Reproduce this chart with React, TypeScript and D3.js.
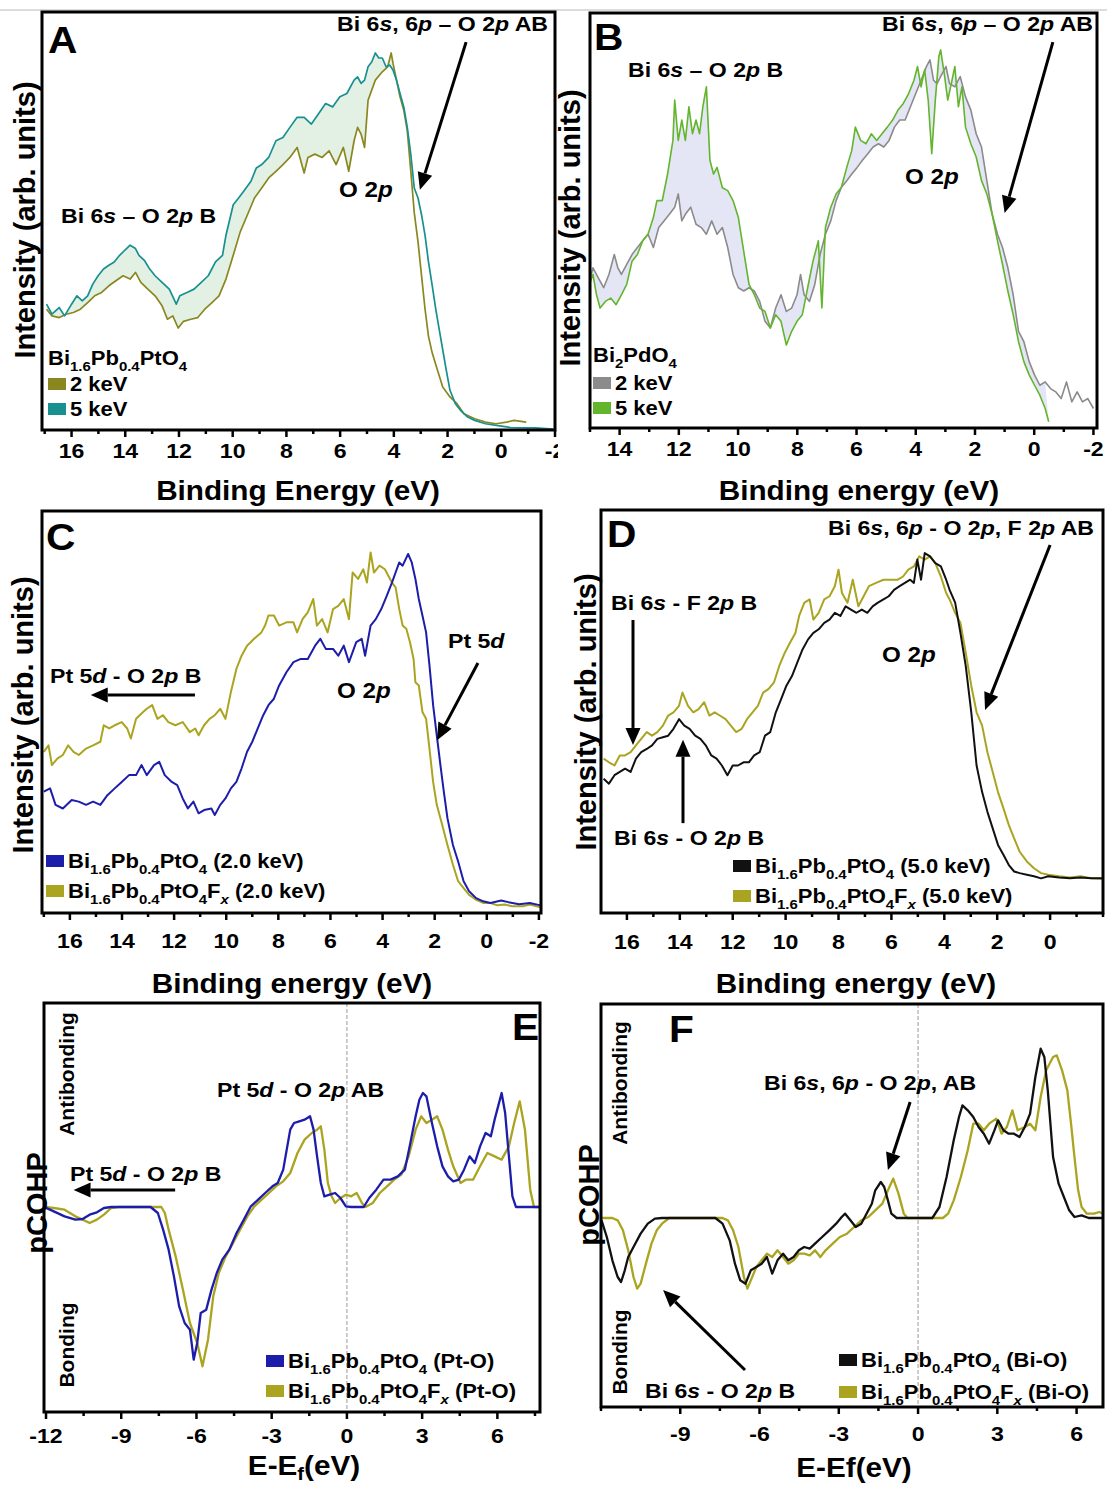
import * as d3 from "d3";
import React from "react";

type Pt = [number, number];

// ---------- tick labels ----------
const ticksA = [16, 14, 12, 10, 8, 6, 4, 2, 0, -2];
const ticksB = [14, 12, 10, 8, 6, 4, 2, 0, -2];
const ticksC = [16, 14, 12, 10, 8, 6, 4, 2, 0, -2];
const ticksD = [16, 14, 12, 10, 8, 6, 4, 2, 0];
const ticksE = [-12, -9, -6, -3, 0, 3, 6];
const ticksF = [-9, -6, -3, 0, 3, 6];

// ---------- A: Bi1.6Pb0.4PtO4, binding energy (eV) vs intensity (% of frame) ----------
const aTeal5keV: Pt[] = [
  [16.93, 30.1], [16.73, 27.7], [16.46, 29.3], [16.26, 27.3], [16.0, 30.1], [15.8, 32.1], [15.6, 30.9], [15.4, 32.1],
  [15.21, 34.9], [15.01, 36.9], [14.81, 38.5], [14.61, 39.4], [14.41, 40.2], [14.21, 41.8], [14.02, 43.0], [13.82, 44.2],
  [13.62, 43.4], [13.49, 41.8], [13.29, 40.6], [13.09, 38.5], [12.89, 36.9], [12.63, 35.3], [12.36, 33.7], [12.1, 30.1],
  [11.97, 32.1], [11.7, 32.9], [11.44, 33.7], [11.17, 35.3], [10.91, 36.9], [10.64, 40.2], [10.38, 41.8], [10.25, 46.6],
  [9.98, 53.9], [9.78, 55.5], [9.59, 57.1], [9.32, 59.5], [9.12, 62.7], [8.92, 63.5], [8.66, 65.2], [8.39, 69.2],
  [8.13, 70.0], [7.87, 72.4], [7.6, 74.8], [7.34, 74.8], [7.07, 73.2], [6.81, 75.6], [6.54, 78.1], [6.28, 77.3],
  [6.01, 79.7], [5.75, 80.5], [5.48, 83.7], [5.35, 84.5], [5.22, 82.9], [5.09, 83.7], [4.96, 86.9], [4.82, 88.1],
  [4.69, 90.2], [4.56, 89.0], [4.43, 89.0], [4.29, 86.9], [4.16, 87.3], [4.03, 86.1], [3.9, 83.7], [3.77, 80.5],
  [3.63, 77.3], [3.5, 72.4], [3.37, 66.0], [3.24, 57.9], [3.1, 55.5], [2.97, 51.5], [2.84, 46.6], [2.71, 40.2],
  [2.57, 34.5], [2.44, 28.9], [2.31, 24.0], [2.18, 19.2], [2.05, 14.4], [1.91, 9.5], [1.71, 6.3], [1.52, 4.7],
  [1.25, 3.1], [0.99, 2.3], [0.59, 1.5], [0.06, 1.0], [-0.34, 0.6], [-0.87, 0.5], [-1.26, 0.5], [-1.92, 0.2],
];
const aOlive2keV: Pt[] = [
  [16.93, 28.9], [16.73, 27.3], [16.46, 26.9], [16.2, 27.7], [15.93, 28.1], [15.67, 28.9], [15.4, 30.5], [15.14, 32.1],
  [14.88, 32.9], [14.61, 34.5], [14.35, 35.7], [14.08, 36.9], [13.82, 36.1], [13.62, 37.7], [13.42, 35.3], [13.16, 33.7],
  [12.89, 32.1], [12.63, 29.7], [12.43, 26.5], [12.23, 27.3], [12.03, 24.4], [11.83, 26.0], [11.56, 26.5], [11.3, 26.9],
  [11.04, 28.9], [10.77, 30.5], [10.51, 32.1], [10.25, 36.1], [9.98, 41.8], [9.72, 47.4], [9.45, 51.5], [9.19, 55.5],
  [8.92, 57.9], [8.66, 60.3], [8.39, 61.9], [8.13, 63.5], [7.87, 65.2], [7.6, 67.6], [7.34, 61.5], [7.2, 65.2],
  [6.94, 66.0], [6.67, 65.2], [6.41, 66.8], [6.15, 63.5], [5.88, 67.6], [5.68, 61.9], [5.48, 69.2], [5.35, 72.4],
  [5.22, 70.8], [5.09, 67.6], [4.96, 78.9], [4.69, 83.7], [4.43, 85.7], [4.23, 86.9], [4.1, 90.2], [4.03, 87.7],
  [3.9, 83.7], [3.77, 79.7], [3.63, 76.5], [3.5, 71.6], [3.37, 62.0], [3.24, 52.0], [3.1, 45.0], [2.97, 37.0],
  [2.84, 29.0], [2.71, 22.4], [2.57, 18.4], [2.38, 14.4], [2.18, 10.3], [1.91, 7.9], [1.65, 6.3], [1.39, 3.9],
  [0.99, 2.7], [0.59, 1.9], [0.2, 1.5], [-0.2, 1.9], [-0.47, 2.3], [-0.93, 1.9],
];

// ---------- B: Bi2PdO4 ----------
const bGray2keV: Pt[] = [
  [15.02, 35.4], [14.9, 38.6], [14.72, 36.2], [14.54, 33.8], [14.36, 37.0], [14.18, 41.8], [14.06, 38.6], [13.94, 37.0],
  [13.76, 39.4], [13.58, 41.8], [13.4, 43.5], [13.22, 45.1], [13.04, 46.7], [12.86, 43.5], [12.68, 48.3], [12.5, 49.9],
  [12.32, 51.5], [12.14, 53.2], [12.02, 56.4], [11.9, 49.9], [11.78, 51.5], [11.6, 53.2], [11.42, 49.1], [11.24, 48.3],
  [11.07, 46.7], [10.89, 49.9], [10.71, 46.7], [10.53, 48.3], [10.35, 43.5], [10.17, 37.0], [9.99, 33.8], [9.81, 33.0],
  [9.63, 33.8], [9.45, 33.0], [9.27, 30.5], [9.09, 25.7], [8.91, 24.1], [8.73, 28.9], [8.55, 32.1], [8.37, 28.1],
  [8.19, 28.9], [8.01, 32.1], [7.89, 37.0], [7.77, 32.1], [7.59, 30.5], [7.41, 34.6], [7.23, 41.8], [7.05, 46.7],
  [6.87, 49.9], [6.69, 54.8], [6.51, 58.0], [6.33, 59.6], [6.16, 61.2], [5.98, 62.8], [5.8, 64.5], [5.62, 66.1],
  [5.44, 67.7], [5.26, 68.5], [5.08, 67.7], [4.9, 69.3], [4.72, 72.5], [4.54, 74.2], [4.36, 74.2], [4.18, 77.4],
  [4.0, 80.6], [3.82, 83.8], [3.64, 87.1], [3.52, 88.7], [3.4, 83.8], [3.28, 83.0], [3.16, 84.7], [2.98, 87.1],
  [2.86, 83.0], [2.68, 82.2], [2.5, 84.7], [2.32, 79.8], [2.14, 76.6], [1.96, 70.9], [1.78, 67.7], [1.6, 59.6],
  [1.42, 51.5], [1.24, 46.7], [1.07, 43.5], [0.89, 38.6], [0.71, 32.1], [0.53, 23.3], [0.35, 20.8], [0.17, 16.0],
  [-0.01, 12.8], [-0.19, 10.3], [-0.37, 11.1], [-0.55, 9.5], [-0.73, 8.7], [-0.91, 7.1], [-1.09, 11.1], [-1.27, 6.3],
  [-1.45, 8.7], [-1.63, 6.3], [-1.81, 7.1], [-2.0, 4.7],
];
const bGreen5keV: Pt[] = [
  [15.02, 34.6], [14.9, 37.0], [14.78, 32.1], [14.66, 28.9], [14.48, 30.5], [14.3, 31.3], [14.12, 29.7], [13.94, 32.1],
  [13.76, 34.6], [13.58, 40.2], [13.4, 41.8], [13.22, 45.1], [13.04, 46.7], [12.86, 50.7], [12.74, 54.8], [12.56, 54.8],
  [12.38, 61.2], [12.2, 69.3], [12.14, 79.0], [12.02, 69.3], [11.9, 74.2], [11.78, 69.3], [11.66, 77.4], [11.54, 70.9],
  [11.42, 74.2], [11.3, 70.9], [11.19, 77.4], [11.07, 82.2], [10.95, 64.5], [10.83, 61.2], [10.71, 62.8], [10.53, 57.9],
  [10.35, 57.2], [10.17, 54.8], [9.99, 50.7], [9.81, 42.6], [9.63, 34.6], [9.45, 32.1], [9.27, 28.9], [9.09, 28.1],
  [8.91, 24.1], [8.73, 27.3], [8.55, 25.7], [8.37, 20.0], [8.19, 23.3], [8.01, 25.7], [7.83, 27.3], [7.65, 33.8],
  [7.47, 40.2], [7.29, 45.1], [7.17, 28.9], [7.05, 48.3], [6.87, 53.2], [6.69, 56.4], [6.51, 58.0], [6.33, 62.8],
  [6.16, 66.9], [6.04, 72.5], [5.86, 69.3], [5.68, 68.5], [5.5, 70.9], [5.32, 69.3], [5.14, 70.9], [4.96, 72.5],
  [4.78, 74.2], [4.6, 76.6], [4.42, 78.2], [4.24, 80.6], [4.06, 83.8], [3.94, 87.1], [3.82, 82.2], [3.7, 86.3],
  [3.58, 79.0], [3.46, 66.1], [3.34, 79.0], [3.22, 89.5], [3.16, 91.1], [3.04, 85.5], [2.92, 79.0], [2.8, 83.0],
  [2.68, 87.1], [2.56, 77.4], [2.44, 82.2], [2.32, 72.5], [2.14, 68.5], [1.96, 65.3], [1.78, 59.6], [1.6, 56.4],
  [1.42, 51.5], [1.24, 45.1], [1.07, 39.4], [0.89, 33.0], [0.71, 27.3], [0.53, 20.8], [0.35, 16.0], [0.17, 12.8],
  [-0.01, 10.3], [-0.19, 7.9], [-0.37, 4.7], [-0.49, 1.5],
];

// ---------- C: Bi1.6Pb0.4PtO4 vs Bi1.6Pb0.4PtO4Fx at 2.0 keV ----------
const cBlue: Pt[] = [
  [17.0, 30.2], [16.76, 31.0], [16.55, 26.9], [16.27, 26.0], [15.93, 28.1], [15.66, 27.7], [15.38, 26.9], [15.11, 27.7],
  [14.83, 26.9], [14.56, 29.3], [14.28, 31.0], [14.01, 32.6], [13.73, 34.3], [13.46, 34.3], [13.25, 36.8], [13.05, 34.3],
  [12.77, 36.8], [12.57, 37.6], [12.36, 34.3], [12.09, 32.6], [11.88, 31.8], [11.67, 28.5], [11.47, 26.0], [11.26, 27.7],
  [11.06, 24.8], [10.85, 25.6], [10.57, 26.0], [10.44, 24.4], [10.23, 26.9], [10.03, 28.5], [9.82, 31.0], [9.61, 32.6],
  [9.41, 36.0], [9.2, 40.1], [9.0, 42.6], [8.79, 45.9], [8.58, 49.2], [8.38, 51.7], [8.17, 53.3], [7.97, 56.6],
  [7.69, 59.9], [7.42, 62.4], [7.14, 63.2], [6.87, 63.2], [6.59, 66.5], [6.39, 68.2], [6.18, 65.7], [5.9, 65.7],
  [5.7, 64.0], [5.49, 66.5], [5.29, 62.4], [5.01, 67.4], [4.8, 68.2], [4.67, 64.0], [4.46, 71.5], [4.26, 73.1],
  [4.05, 75.6], [3.84, 78.9], [3.64, 82.2], [3.5, 84.7], [3.36, 87.2], [3.23, 86.4], [3.02, 89.3], [2.88, 87.2],
  [2.74, 83.1], [2.61, 78.1], [2.47, 74.0], [2.33, 69.8], [2.2, 61.6], [2.06, 51.7], [1.92, 44.2], [1.78, 36.8],
  [1.65, 30.2], [1.51, 23.6], [1.3, 16.9], [1.1, 12.8], [0.89, 7.9], [0.68, 5.4], [0.41, 3.7], [0.14, 2.9],
  [-0.14, 2.5], [-0.55, 3.1], [-0.83, 2.7], [-1.24, 2.2], [-1.65, 2.5], [-2.06, 1.9],
];
const cOliveFx: Pt[] = [
  [17.0, 40.1], [16.82, 41.7], [16.69, 36.8], [16.48, 38.4], [16.27, 39.3], [16.07, 41.7], [15.86, 40.1], [15.66, 39.3],
  [15.38, 40.9], [15.11, 41.7], [14.83, 42.6], [14.7, 46.7], [14.49, 45.9], [14.28, 46.7], [14.01, 47.5], [13.8, 45.9],
  [13.66, 43.4], [13.46, 48.3], [13.19, 50.0], [13.05, 50.8], [12.84, 51.7], [12.64, 48.3], [12.43, 49.2], [12.22, 47.5],
  [11.95, 46.7], [11.67, 47.5], [11.4, 45.0], [11.19, 45.9], [11.06, 44.2], [10.85, 46.7], [10.64, 48.3], [10.44, 49.2],
  [10.23, 50.8], [10.03, 48.3], [9.82, 55.0], [9.61, 60.7], [9.41, 64.0], [9.2, 66.5], [8.93, 68.2], [8.65, 69.8],
  [8.51, 71.5], [8.38, 74.0], [8.17, 74.0], [7.97, 71.5], [7.69, 72.3], [7.42, 72.3], [7.28, 69.8], [7.07, 73.1],
  [6.87, 74.8], [6.66, 78.1], [6.52, 71.5], [6.32, 73.1], [6.11, 69.8], [5.9, 75.6], [5.7, 76.4], [5.49, 78.1],
  [5.29, 73.1], [5.15, 84.7], [4.94, 83.1], [4.74, 85.5], [4.6, 82.2], [4.46, 89.7], [4.33, 84.7], [4.12, 86.4],
  [3.91, 85.5], [3.78, 83.9], [3.64, 82.2], [3.5, 81.0], [3.36, 75.6], [3.23, 71.5], [3.09, 70.7], [2.95, 67.4],
  [2.81, 63.2], [2.74, 57.4], [2.61, 56.6], [2.47, 50.0], [2.33, 48.3], [2.2, 40.9], [2.06, 32.6], [1.92, 26.9],
  [1.71, 21.9], [1.51, 16.9], [1.3, 12.0], [1.1, 7.9], [0.89, 6.2], [0.68, 4.5], [0.41, 3.3], [0.14, 2.5],
  [-0.14, 2.5], [-0.41, 1.9], [-0.69, 2.1], [-0.96, 1.7], [-1.38, 1.7], [-1.65, 2.1], [-2.06, 1.4],
];

// ---------- D: same samples at 5.0 keV ----------
const dBlack: Pt[] = [
  [16.88, 33.3], [16.68, 32.1], [16.47, 34.2], [16.27, 35.0], [16.07, 35.8], [15.86, 35.0], [15.66, 38.3], [15.46, 39.9],
  [15.25, 40.7], [15.05, 41.6], [14.85, 43.2], [14.64, 43.6], [14.44, 44.0], [14.24, 45.7], [14.03, 48.1], [13.83, 46.5],
  [13.63, 45.7], [13.42, 44.0], [13.22, 43.2], [13.02, 41.6], [12.81, 39.1], [12.61, 38.3], [12.41, 36.6], [12.2, 34.2],
  [12.0, 36.6], [11.8, 36.6], [11.59, 37.4], [11.39, 37.4], [11.19, 39.1], [10.98, 39.9], [10.78, 44.0], [10.58, 44.9],
  [10.37, 49.8], [10.17, 53.1], [9.97, 56.4], [9.76, 58.8], [9.56, 62.1], [9.36, 65.4], [9.15, 67.9], [8.95, 69.5],
  [8.75, 70.4], [8.54, 72.0], [8.34, 72.8], [8.14, 74.5], [7.93, 73.7], [7.73, 76.1], [7.53, 75.3], [7.32, 74.5],
  [7.12, 75.3], [6.91, 74.5], [6.71, 76.1], [6.51, 77.0], [6.3, 77.8], [6.1, 78.6], [5.9, 80.2], [5.69, 81.1],
  [5.49, 81.9], [5.29, 82.7], [5.15, 81.9], [5.02, 87.7], [4.88, 82.7], [4.74, 89.3], [4.54, 88.5], [4.34, 86.8],
  [4.13, 86.0], [3.93, 82.7], [3.8, 80.2], [3.59, 77.0], [3.39, 69.5], [3.19, 61.3], [2.98, 49.8], [2.78, 36.6],
  [2.57, 30.0], [2.37, 25.1], [2.17, 21.0], [1.97, 16.9], [1.76, 14.4], [1.56, 11.9], [1.36, 10.3], [1.15, 9.9],
  [0.88, 9.5], [0.61, 9.1], [0.34, 8.6], [0.07, 9.1], [-0.34, 8.8], [-0.75, 8.6], [-1.15, 8.8], [-1.56, 8.6],
  [-1.97, 8.6],
];
const dOliveFx: Pt[] = [
  [16.88, 38.3], [16.68, 37.4], [16.47, 36.6], [16.27, 39.1], [16.07, 39.1], [15.86, 39.9], [15.66, 41.6], [15.46, 43.2],
  [15.25, 44.9], [15.05, 44.0], [14.85, 44.9], [14.64, 46.5], [14.44, 49.0], [14.24, 49.8], [14.03, 51.4], [13.9, 54.7],
  [13.69, 51.4], [13.49, 49.8], [13.29, 50.6], [13.08, 52.3], [12.88, 49.0], [12.68, 49.8], [12.49, 49.0], [12.27, 48.1],
  [12.07, 46.5], [11.87, 44.9], [11.66, 45.7], [11.46, 48.1], [11.25, 49.8], [11.05, 51.4], [10.85, 54.7], [10.64, 55.6],
  [10.44, 57.2], [10.24, 61.3], [10.03, 64.6], [9.83, 67.1], [9.63, 69.5], [9.49, 73.7], [9.29, 77.0], [9.09, 77.8],
  [8.95, 72.8], [8.75, 74.5], [8.54, 77.8], [8.34, 78.6], [8.14, 81.1], [8.0, 85.2], [7.87, 79.4], [7.66, 77.0],
  [7.46, 82.7], [7.25, 76.1], [7.05, 78.6], [6.85, 81.1], [6.58, 81.9], [6.3, 82.7], [6.03, 82.7], [5.76, 82.7],
  [5.56, 83.5], [5.36, 85.2], [5.15, 86.0], [4.95, 88.5], [4.74, 87.7], [4.54, 88.5], [4.34, 86.8], [4.13, 83.5],
  [3.93, 79.4], [3.8, 77.8], [3.59, 74.5], [3.39, 72.0], [3.19, 64.6], [2.98, 56.4], [2.78, 49.8], [2.57, 46.5],
  [2.37, 39.9], [2.17, 35.0], [1.97, 30.0], [1.76, 25.9], [1.56, 21.8], [1.36, 18.5], [1.15, 15.2], [0.88, 12.8],
  [0.61, 11.1], [0.34, 9.9], [0.07, 9.5], [-0.34, 9.1], [-0.75, 8.8], [-1.15, 9.1], [-1.56, 8.6], [-1.97, 8.5],
];

// ---------- E: pCOHP Pt-O (E - Ef in eV) ----------
const ePtO: Pt[] = [
  [-12.07, 0], [-11.69, -0.013], [-11.26, -0.028], [-10.83, -0.038], [-10.54, -0.036], [-10.26, -0.023], [-9.97, -0.016],
  [-9.69, -0.003], [-9.4, 0], [-7.83, 0], [-7.54, -0.018], [-7.33, -0.068], [-7.11, -0.128], [-6.9, -0.208], [-6.69, -0.298],
  [-6.47, -0.348], [-6.26, -0.368], [-6.11, -0.458], [-5.97, -0.408], [-5.83, -0.318], [-5.61, -0.308], [-5.4, -0.248],
  [-5.19, -0.198], [-4.97, -0.158], [-4.69, -0.128], [-4.4, -0.078], [-4.11, -0.038], [-3.83, 0.002], [-3.54, 0.022],
  [-3.26, 0.042], [-2.97, 0.062], [-2.76, 0.072], [-2.54, 0.112], [-2.4, 0.172], [-2.26, 0.232], [-2.11, 0.252],
  [-1.9, 0.257], [-1.69, 0.262], [-1.47, 0.272], [-1.33, 0.232], [-1.19, 0.152], [-1.04, 0.072], [-0.9, 0.032],
  [-0.69, 0.037], [-0.47, 0.042], [-0.26, 0.027], [-0.04, 0.002], [0.17, 0], [0.46, 0], [0.67, 0], [0.89, 0.027],
  [1.17, 0.052], [1.46, 0.082], [1.74, 0.082], [2.03, 0.092], [2.31, 0.112], [2.53, 0.192], [2.74, 0.272], [2.89, 0.322],
  [3.03, 0.342], [3.17, 0.332], [3.39, 0.252], [3.6, 0.182], [3.81, 0.122], [4.03, 0.092], [4.24, 0.077], [4.46, 0.082],
  [4.67, 0.112], [4.89, 0.152], [5.1, 0.132], [5.31, 0.182], [5.53, 0.222], [5.74, 0.212], [5.89, 0.262], [6.03, 0.302],
  [6.17, 0.342], [6.31, 0.282], [6.46, 0.152], [6.6, 0.032], [6.74, 0], [7.89, 0],
];
const ePtOFx: Pt[] = [
  [-12.07, 0], [-11.69, -0.003], [-11.26, -0.008], [-10.83, -0.028], [-10.54, -0.038], [-10.26, -0.048], [-9.97, -0.038],
  [-9.69, -0.023], [-9.4, -0.003], [-9.11, 0], [-7.4, 0], [-7.26, -0.018], [-7.11, -0.068], [-6.83, -0.148], [-6.54, -0.248],
  [-6.26, -0.348], [-5.97, -0.408], [-5.76, -0.478], [-5.54, -0.398], [-5.33, -0.268], [-5.11, -0.198], [-4.83, -0.148],
  [-4.54, -0.108], [-4.26, -0.068], [-3.97, -0.028], [-3.69, 0.002], [-3.4, 0.022], [-3.11, 0.042], [-2.83, 0.062],
  [-2.54, 0.077], [-2.26, 0.102], [-1.97, 0.162], [-1.69, 0.202], [-1.4, 0.222], [-1.19, 0.232], [-1.04, 0.242],
  [-0.9, 0.172], [-0.76, 0.072], [-0.61, 0.032], [-0.47, 0.012], [-0.26, 0.027], [-0.04, 0.037], [0.17, 0.032],
  [0.39, 0.042], [0.6, 0.012], [0.74, 0], [1.03, 0.012], [1.31, 0.042], [1.6, 0.062], [1.89, 0.082], [2.17, 0.097],
  [2.46, 0.152], [2.74, 0.232], [2.96, 0.272], [3.17, 0.252], [3.39, 0.262], [3.6, 0.272], [3.81, 0.232], [4.03, 0.172],
  [4.24, 0.122], [4.53, 0.072], [4.74, 0.082], [5.03, 0.082], [5.31, 0.122], [5.6, 0.162], [5.89, 0.152], [6.17, 0.142],
  [6.46, 0.182], [6.67, 0.252], [6.89, 0.317], [7.1, 0.232], [7.31, 0.052], [7.46, 0], [7.89, 0],
];

// ---------- F: pCOHP Bi-O ----------
const fBiO: Pt[] = [
  [-11.98, -0.007], [-11.78, -0.057], [-11.57, -0.127], [-11.37, -0.177], [-11.24, -0.192], [-11.1, -0.157],
  [-10.97, -0.117], [-10.77, -0.087], [-10.5, -0.047], [-10.23, -0.017], [-9.96, -0.002], [-9.69, 0], [-7.67, 0],
  [-7.4, -0.017], [-7.13, -0.067], [-6.93, -0.137], [-6.73, -0.187], [-6.53, -0.197], [-6.33, -0.157], [-6.12, -0.147],
  [-5.92, -0.137], [-5.72, -0.117], [-5.52, -0.167], [-5.32, -0.127], [-5.11, -0.107], [-4.91, -0.127], [-4.71, -0.117],
  [-4.51, -0.097], [-4.31, -0.087], [-4.1, -0.092], [-3.9, -0.077], [-3.63, -0.057], [-3.36, -0.037], [-3.1, -0.017],
  [-2.89, 0.003], [-2.76, 0.013], [-2.56, -0.007], [-2.36, -0.027], [-2.15, -0.017], [-1.95, 0.013], [-1.75, 0.043],
  [-1.62, 0.083], [-1.41, 0.108], [-1.28, 0.093], [-1.14, 0.053], [-1.01, 0.013], [-0.81, 0], [0.54, 0], [0.81, 0.033],
  [1.08, 0.123], [1.35, 0.233], [1.55, 0.303], [1.68, 0.338], [1.88, 0.323], [2.09, 0.303], [2.29, 0.273], [2.49, 0.253],
  [2.69, 0.223], [2.89, 0.263], [3.03, 0.293], [3.23, 0.263], [3.43, 0.253], [3.63, 0.253], [3.84, 0.243], [4.04, 0.273],
  [4.24, 0.313], [4.44, 0.423], [4.64, 0.508], [4.78, 0.483], [4.91, 0.383], [5.11, 0.183], [5.32, 0.103], [5.52, 0.063],
  [5.72, 0.023], [5.92, 0.003], [6.19, 0.008], [6.46, 0], [7.0, 0],
];
const fBiOFx: Pt[] = [
  [-11.98, 0], [-11.57, 0], [-11.37, -0.007], [-11.17, -0.037], [-10.97, -0.097], [-10.77, -0.177], [-10.63, -0.212],
  [-10.5, -0.197], [-10.3, -0.137], [-10.09, -0.077], [-9.89, -0.037], [-9.69, -0.017], [-9.42, 0], [-7.4, 0],
  [-7.2, -0.007], [-7.0, -0.037], [-6.8, -0.087], [-6.59, -0.177], [-6.46, -0.212], [-6.33, -0.187], [-6.12, -0.147],
  [-5.92, -0.127], [-5.72, -0.107], [-5.52, -0.117], [-5.32, -0.097], [-5.11, -0.117], [-4.91, -0.137], [-4.71, -0.127],
  [-4.51, -0.107], [-4.31, -0.107], [-4.1, -0.112], [-3.9, -0.097], [-3.7, -0.117], [-3.5, -0.097], [-3.23, -0.077],
  [-2.96, -0.057], [-2.69, -0.047], [-2.42, -0.027], [-2.15, -0.007], [-1.88, 0.003], [-1.62, 0.023], [-1.35, 0.043],
  [-1.14, 0.083], [-0.94, 0.118], [-0.74, 0.073], [-0.54, 0.013], [-0.4, 0], [0.94, 0], [1.14, 0.013], [1.35, 0.053],
  [1.62, 0.123], [1.88, 0.203], [2.09, 0.283], [2.29, 0.283], [2.49, 0.263], [2.69, 0.283], [2.96, 0.298], [3.16, 0.253],
  [3.36, 0.273], [3.57, 0.323], [3.77, 0.263], [4.04, 0.273], [4.24, 0.283], [4.44, 0.263], [4.64, 0.363], [4.85, 0.443],
  [5.11, 0.483], [5.25, 0.488], [5.45, 0.443], [5.65, 0.383], [5.79, 0.283], [5.92, 0.183], [6.06, 0.083], [6.19, 0.033],
  [6.39, 0.013], [6.66, 0.013], [6.86, 0.018], [7.0, 0.013],
];

// ---------- styling ----------
const FONT = "'Liberation Sans', Arial, Helvetica, sans-serif";
const SX = 1.1; // the figure text is slightly wider than plain Arial
const OLIVE_A = "#8a8720";
const TEAL = "#17908f";
const GRAY = "#8b8b8b";
const GREEN = "#62b52c";
const BLUE = "#1d1dab";
const OLIVE = "#aba420";
const BLACK = "#111111";

// *x* italic, _x_ subscript, ~x~ italic subscript
function parseRich(s: string) {
  return s
    .split(/(\*[^*]+\*|_[^_]+_|~[^~]+~)/)
    .filter((p) => p.length > 0)
    .map((p) => {
      if (p[0] === "*") return { t: p.slice(1, -1), i: true, sub: false };
      if (p[0] === "_") return { t: p.slice(1, -1), i: false, sub: true };
      if (p[0] === "~") return { t: p.slice(1, -1), i: true, sub: true };
      return { t: p, i: false, sub: false };
    });
}

function Rich({ x, y, s, size, anchor = "start", rotate = 0, stretch = SX, subShift = 0.3 }: any) {
  const segs = parseRich(s);
  const shift = size * subShift;
  let low = false;
  const tf = rotate ? `translate(${x},${y}) rotate(${rotate})` : `translate(${x},${y}) scale(${stretch},1)`;
  return (
    <text transform={tf} fontSize={size} fontWeight={700} fontFamily={FONT} textAnchor={anchor} style={{ whiteSpace: "pre" }}>
      {segs.map((g, k) => {
        let dy = 0;
        if (g.sub && !low) {
          dy = shift;
          low = true;
        } else if (!g.sub && low) {
          dy = -shift;
          low = false;
        }
        return (
          <tspan key={k} dy={dy} fontStyle={g.i ? "italic" : "normal"} fontSize={g.sub ? size * 0.68 : size}>
            {g.t}
          </tspan>
        );
      })}
    </text>
  );
}

function Arrow({ x1, y1, x2, y2 }: { x1: number; y1: number; x2: number; y2: number }) {
  const L = Math.hypot(x2 - x1, y2 - y1);
  const ux = (x2 - x1) / L;
  const uy = (y2 - y1) / L;
  const hl = 17;
  const hw = 7.5;
  const bx = x2 - ux * hl;
  const by = y2 - uy * hl;
  return (
    <g>
      <line x1={x1} y1={y1} x2={bx} y2={by} stroke="#000" strokeWidth={3} />
      <path d={`M${x2},${y2}L${bx - uy * hw},${by + ux * hw}L${bx + uy * hw},${by - ux * hw}Z`} fill="#000" />
    </g>
  );
}

interface Series {
  color: string;
  data: Pt[];
  width: number;
}

function Panel({ spec }: { spec: any }) {
  const { id, left, right, top, bottom } = spec;
  const x = d3.scaleLinear().domain(spec.xDomain).range([left, right]);
  const y = d3.scaleLinear().domain(spec.yDomain).range([bottom, top]);
  const line = d3
    .line<Pt>()
    .x((d) => x(d[0]))
    .y((d) => y(d[1]));
  const [d0, d1] = spec.xDomain;
  const lo = Math.min(d0, d1);
  const hi = Math.max(d0, d1);
  const minors = d3
    .range(Math.ceil(lo / spec.minorStep) * spec.minorStep, hi + 1e-9, spec.minorStep)
    .filter((t) => !spec.ticks.some((m: number) => Math.abs(m - t) < 1e-6));

  return (
    <g>
      <defs>
        <clipPath id={`clip-${id}`}>
          <rect x={left} y={top} width={right - left} height={bottom - top} />
        </clipPath>
        <clipPath id={`lab-${id}`}>
          <rect x={0} y={0} width={spec.labelClipRight ?? 1107} height={1487} />
        </clipPath>
      </defs>

      <g clipPath={`url(#clip-${id})`}>
        {(spec.fills ?? []).map((f: any, i: number) => (
          <path key={`f${i}`} d={line(f.a.concat(f.b.slice().reverse())) + "Z"} fill={f.color} stroke="none" />
        ))}
        {spec.zeroLine && (
          <line x1={x(0)} x2={x(0)} y1={top} y2={bottom} stroke="#9a9a9a" strokeWidth={1} strokeDasharray="4,2" />
        )}
        {spec.series.map((s: Series, i: number) => (
          <path key={`s${i}`} d={line(s.data) ?? ""} fill="none" stroke={s.color} strokeWidth={s.width} strokeLinejoin="round" />
        ))}
      </g>

      <rect x={left} y={top} width={right - left} height={bottom - top} fill="none" stroke="#000" strokeWidth={3} />

      {/* bottom axis */}
      {spec.ticks.map((t: number) => (
        <line key={`t${t}`} x1={x(t)} x2={x(t)} y1={bottom} y2={bottom + 7} stroke="#000" strokeWidth={2.5} />
      ))}
      {minors.map((t: number) => (
        <line key={`m${t}`} x1={x(t)} x2={x(t)} y1={bottom} y2={bottom + 4} stroke="#000" strokeWidth={2.5} />
      ))}
      <g clipPath={`url(#lab-${id})`}>
        {spec.ticks.map((t: number) => (
          <Rich key={`l${t}`} x={x(t)} y={bottom + spec.tickDy} s={String(t)} size={21} anchor="middle" />
        ))}
      </g>
      <Rich x={spec.xTitle[0]} y={spec.xTitle[1]} s={spec.xTitle[2]} size={27} anchor="middle" subShift={0.2} />

      {spec.arrows.map((a: number[][], i: number) => (
        <Arrow key={`a${i}`} x1={x(a[0][0])} y1={y(a[0][1])} x2={x(a[1][0])} y2={y(a[1][1])} />
      ))}

      {spec.texts.map((t: any, i: number) => (
        <Rich key={`x${i}`} x={t.x} y={t.y} s={t.s} size={t.size ?? 21} anchor={t.anchor ?? "start"} rotate={t.rotate ?? 0} />
      ))}

      {spec.legend.map((g: any, i: number) => (
        <g key={`g${i}`}>
          {g.color && <rect x={g.x} y={g.y - 13} width={18} height={12} fill={g.color} />}
          <Rich x={g.color ? g.x + 22 : g.x} y={g.y} s={g.s} size={20} />
        </g>
      ))}
    </g>
  );
}

const panels = [
  {
    id: "A", left: 42, right: 555, top: 12, bottom: 430, xDomain: [17.1, -2.0], yDomain: [0, 100],
    ticks: ticksA, minorStep: 1, tickDy: 28, labelClipRight: 558,
    xTitle: [298, 500, "Binding Energy (eV)"],
    fills: [{ a: aTeal5keV.filter((d) => d[0] >= 3.9), b: aOlive2keV.filter((d) => d[0] >= 3.9), color: "#e3f1e5" }],
    series: [
      { data: aOlive2keV, color: OLIVE_A, width: 1.7 },
      { data: aTeal5keV, color: TEAL, width: 1.7 },
    ],
    arrows: [[[1.31, 92.8], [3.03, 57.5]]],
    texts: [
      { x: 48, y: 53, s: "A", size: 37 },
      { x: 548, y: 31, s: "Bi 6*s*, 6*p* – O 2*p* AB", anchor: "end" },
      { x: 339, y: 197, s: "O 2*p*", size: 22 },
      { x: 61, y: 223, s: "Bi 6*s* – O 2*p* B" },
      { x: 35, y: 220, s: "Intensity (arb. units)", size: 29, anchor: "middle", rotate: -90 },
    ],
    legend: [
      { x: 48, y: 365, s: "Bi_1.6_Pb_0.4_PtO_4_" },
      { x: 48, y: 391, s: "2 keV", color: OLIVE_A },
      { x: 48, y: 416, s: "5 keV", color: TEAL },
    ],
  },
  {
    id: "B", left: 590, right: 1097, top: 13, bottom: 428, xDomain: [15.0, -2.12], yDomain: [0, 100],
    ticks: ticksB, minorStep: 1, tickDy: 28,
    xTitle: [859, 500, "Binding energy (eV)"],
    fills: [{ a: bGreen5keV, b: bGray2keV.filter((d) => d[0] >= -0.5), color: "#e4e6f6" }],
    series: [
      { data: bGray2keV, color: GRAY, width: 1.6 },
      { data: bGreen5keV, color: GREEN, width: 1.6 },
    ],
    arrows: [[[-0.63, 93], [1.0, 51.8]]],
    texts: [
      { x: 594, y: 50, s: "B", size: 37 },
      { x: 1093, y: 31, s: "Bi 6*s*, 6*p* – O 2*p* AB", anchor: "end" },
      { x: 628, y: 77, s: "Bi 6*s* – O 2*p* B" },
      { x: 905, y: 184, s: "O 2*p*", size: 22 },
      { x: 580, y: 228, s: "Intensity (arb. units)", size: 29, anchor: "middle", rotate: -90 },
    ],
    legend: [
      { x: 593, y: 362, s: "Bi_2_PdO_4_" },
      { x: 593, y: 390, s: "2 keV", color: GRAY },
      { x: 593, y: 415, s: "5 keV", color: GREEN },
    ],
  },
  {
    id: "C", left: 42, right: 541, top: 511, bottom: 913, xDomain: [17.07, -2.08], yDomain: [0, 100],
    ticks: ticksC, minorStep: 1, tickDy: 35,
    xTitle: [292, 993, "Binding energy (eV)"],
    series: [
      { data: cOliveFx, color: OLIVE, width: 2 },
      { data: cBlue, color: BLUE, width: 2 },
    ],
    arrows: [
      [[0.34, 62.2], [1.91, 43.0]],
      [[11.2, 54.2], [15.2, 54.2]],
    ],
    texts: [
      { x: 46, y: 550, s: "C", size: 37 },
      { x: 448, y: 648, s: "Pt 5*d*" },
      { x: 50, y: 683, s: "Pt 5*d* - O 2*p* B" },
      { x: 337, y: 698, s: "O 2*p*", size: 22 },
      { x: 33, y: 715, s: "Intensity (arb. units)", size: 29, anchor: "middle", rotate: -90 },
    ],
    legend: [
      { x: 46, y: 868, s: "Bi_1.6_Pb_0.4_PtO_4_ (2.0 keV)", color: BLUE },
      { x: 46, y: 898, s: "Bi_1.6_Pb_0.4_PtO_4_F~x~ (2.0 keV)", color: OLIVE },
    ],
  },
  {
    id: "D", left: 601, right: 1103, top: 510, bottom: 913, xDomain: [16.98, -2.0], yDomain: [0, 100],
    ticks: ticksD, minorStep: 1, tickDy: 36,
    xTitle: [856, 993, "Binding energy (eV)"],
    series: [
      { data: dOliveFx, color: OLIVE, width: 2 },
      { data: dBlack, color: BLACK, width: 2 },
    ],
    arrows: [
      [[0.0, 91.3], [2.46, 50.4]],
      [[15.77, 72.7], [15.77, 41.7]],
      [[13.88, 22.3], [13.88, 43.0]],
    ],
    texts: [
      { x: 607, y: 547, s: "D", size: 37 },
      { x: 1094, y: 535, s: "Bi 6*s*, 6*p* - O 2*p*, F 2*p* AB", anchor: "end" },
      { x: 611, y: 610, s: "Bi 6*s* - F 2*p* B" },
      { x: 614, y: 845, s: "Bi 6*s* - O 2*p* B" },
      { x: 882, y: 662, s: "O 2*p*", size: 22 },
      { x: 596, y: 712, s: "Intensity (arb. units)", size: 29, anchor: "middle", rotate: -90 },
    ],
    legend: [
      { x: 733, y: 873, s: "Bi_1.6_Pb_0.4_PtO_4_ (5.0 keV)", color: BLACK },
      { x: 733, y: 903, s: "Bi_1.6_Pb_0.4_PtO_4_F~x~ (5.0 keV)", color: OLIVE },
    ],
  },
  {
    id: "E", left: 44, right: 540, top: 1003, bottom: 1412, xDomain: [-12.08, 7.7], yDomain: [-0.615, 0.612],
    ticks: ticksE, minorStep: 1.5, tickDy: 31, zeroLine: true,
    xTitle: [304, 1475, "E-E_f_(eV)"],
    series: [
      { data: ePtOFx, color: OLIVE, width: 2.3 },
      { data: ePtO, color: BLUE, width: 2.3 },
    ],
    arrows: [[[-6.85, 0.051], [-10.9, 0.051]]],
    texts: [
      { x: 512, y: 1040, s: "E", size: 37 },
      { x: 217, y: 1097, s: "Pt 5*d* - O 2*p* AB" },
      { x: 70, y: 1181, s: "Pt 5*d* - O 2*p* B" },
      { x: 74, y: 1074, s: "Antibonding", size: 21, anchor: "middle", rotate: -90 },
      { x: 74, y: 1345, s: "Bonding", size: 21, anchor: "middle", rotate: -90 },
      { x: 47, y: 1203, s: "pCOHP", size: 29, anchor: "middle", rotate: -90 },
    ],
    legend: [
      { x: 266, y: 1368, s: "Bi_1.6_Pb_0.4_PtO_4_ (Pt-O)", color: BLUE },
      { x: 266, y: 1398, s: "Bi_1.6_Pb_0.4_PtO_4_F~x~ (Pt-O)", color: OLIVE },
    ],
  },
  {
    id: "F", left: 601, right: 1103, top: 1004, bottom: 1407, xDomain: [-12, 7.0], yDomain: [-0.567, 0.642],
    ticks: ticksF, minorStep: 1.5, tickDy: 34, zeroLine: true,
    xTitle: [854, 1477, "E-Ef(eV)"],
    series: [
      { data: fBiOFx, color: OLIVE, width: 2.3 },
      { data: fBiO, color: BLACK, width: 2.3 },
    ],
    arrows: [
      [[-0.3, 0.348], [-1.14, 0.144]],
      [[-6.55, -0.456], [-9.65, -0.216]],
    ],
    texts: [
      { x: 669, y: 1042, s: "F", size: 37 },
      { x: 764, y: 1090, s: "Bi 6*s*, 6*p* - O 2*p*, AB" },
      { x: 645, y: 1398, s: "Bi 6*s* - O 2*p* B" },
      { x: 627, y: 1083, s: "Antibonding", size: 21, anchor: "middle", rotate: -90 },
      { x: 627, y: 1352, s: "Bonding", size: 21, anchor: "middle", rotate: -90 },
      { x: 599, y: 1195, s: "pCOHP", size: 29, anchor: "middle", rotate: -90 },
    ],
    legend: [
      { x: 839, y: 1367, s: "Bi_1.6_Pb_0.4_PtO_4_ (Bi-O)", color: BLACK },
      { x: 839, y: 1399, s: "Bi_1.6_Pb_0.4_PtO_4_F~x~ (Bi-O)", color: OLIVE },
    ],
  },
];

export default function App() {
  return (
    <svg
      width={1107}
      height={1487}
      viewBox="0 0 1107 1487"
      style={{ position: "absolute", left: 0, top: 0, background: "#fff" }}
    >
      <rect width={1107} height={1487} fill="#fff" />
      <line x1={0} x2={1107} y1={10} y2={10} stroke="#d0d0d0" strokeWidth={1.5} />
      {panels.map((p) => (
        <Panel key={p.id} spec={p} />
      ))}
    </svg>
  );
}
